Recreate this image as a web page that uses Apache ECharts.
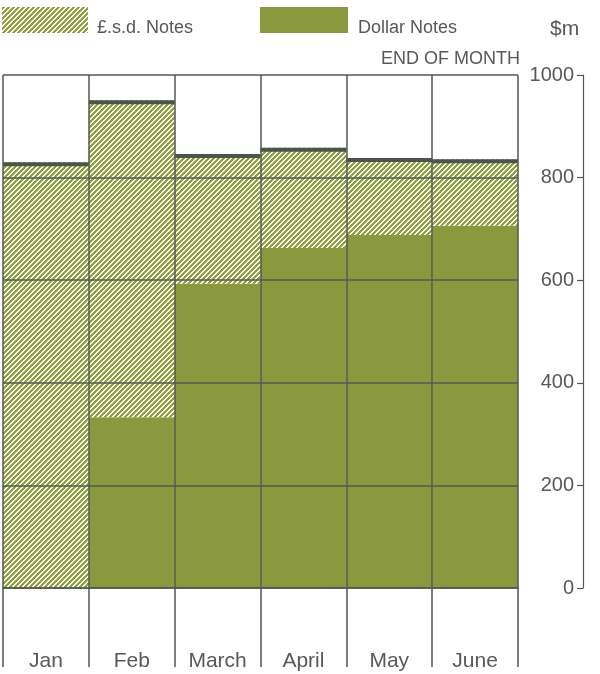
<!DOCTYPE html>
<html>
<head>
<meta charset="utf-8">
<script src="https://cdn.jsdelivr.net/npm/echarts@6/dist/echarts.min.js"></script>
<style>html,body{margin:0;padding:0;background:#fff}#c{width:600px;height:674px}</style>
</head>
<body>
<div id="c"></div>
<script>
const months = ['Jan', 'Feb', 'March', 'April', 'May', 'June'];
const dollarNotes = [0, 333, 593, 663, 688, 706];
const lsdNotes = [830, 618, 253, 195, 150, 130];
const yTicks = [0, 200, 400, 600, 800, 1000];

const totals = months.map((m, i) => dollarNotes[i] + lsdNotes[i]);

function hatch() {
  const p = 5, w = 3, n = 20;
  const cv = document.createElement('canvas');
  cv.width = n; cv.height = n;
  const ctx = cv.getContext('2d');
  ctx.fillStyle = '#ffffff';
  ctx.fillRect(0, 0, n, n);
  ctx.fillStyle = '#90a23f';
  for (let y = 0; y < n; y++) {
    for (let x = 0; x < n; x++) {
      if ((x + y) % p < w) ctx.fillRect(x, y, 1, 1);
    }
  }
  return cv;
}
const hatchColor = { image: hatch(), repeat: 'repeat' };
const dollarColor = '#8a993d';
const lineColor = '#525a4f';
const textColor = '#555a55';
const font = 'Liberation Sans, Arial, sans-serif';

function legendText(padLeft) {
  return {
    fontSize: 18, color: textColor, fontFamily: font, padding: [0, 0, 0, padLeft],
    rich: { a: { fontSize: 18, color: textColor, fontFamily: font, padding: [16, 0, 0, 0] } }
  };
}

const chart = echarts.init(document.getElementById('c'), null, { renderer: 'canvas' });
chart.setOption({
  animation: false,
  textStyle: { fontFamily: font },
  grid: { left: 3, right: 82, top: 75, bottom: 86 },
  legend: [
    { data: ['£.s.d. Notes'], left: 2, top: 7, padding: 0, itemWidth: 86, itemHeight: 26, icon: 'rect',
      formatter: '{a|{name}}', textStyle: legendText(4) },
    { data: ['Dollar Notes'], left: 260, top: 7, padding: 0, itemWidth: 88, itemHeight: 26, icon: 'rect',
      formatter: '{a|{name}}', textStyle: legendText(5) }
  ],
  graphic: [
    { type: 'text', left: 550, top: 19, style: { text: '$m', fontSize: 21, fill: textColor, fontFamily: font } },
    { type: 'text', right: 80, top: 50, style: { text: 'END OF MONTH', fontSize: 18, fill: textColor, fontFamily: font } }
  ],
  xAxis: {
    type: 'category', data: months, boundaryGap: true, z: 10,
    axisLine: { show: true, lineStyle: { color: lineColor, width: 1.5 } },
    axisTick: { show: true, alignWithLabel: false, length: 79, lineStyle: { color: lineColor, width: 1.5 } },
    axisLabel: { margin: 63, fontSize: 21, color: textColor, fontFamily: font },
    splitLine: { show: true, lineStyle: { color: lineColor, width: 1.5 } }
  },
  yAxis: {
    type: 'value', min: 0, max: 1000, interval: 200, position: 'right', offset: 65, z: 10,
    axisLine: { show: true, lineStyle: { color: lineColor, width: 1.2 } },
    axisTick: { show: true, inside: true, length: 6, lineStyle: { color: lineColor, width: 1.2 } },
    axisLabel: { inside: true, margin: 9, fontSize: 20, color: textColor, fontFamily: font,
      formatter: v => (yTicks.indexOf(v) >= 0 ? String(v) : '') },
    splitLine: { show: true, lineStyle: { color: lineColor, width: 1.5 } }
  },
  series: [
    { name: 'Dollar Notes', type: 'bar', stack: 'notes', data: dollarNotes, barCategoryGap: '0%',
      itemStyle: { color: dollarColor } },
    { name: '£.s.d. Notes', type: 'bar', stack: 'notes', data: lsdNotes, barCategoryGap: '0%',
      itemStyle: { color: hatchColor } },
    { name: 'top', type: 'custom', z: 5,
      data: totals.map((t, i) => [i, t]),
      renderItem: function (params, api) {
        const pt = api.coord([api.value(0), api.value(1)]);
        const size = api.size([1, 0]);
        return { type: 'rect', shape: { x: pt[0] - size[0] / 2, y: pt[1], width: size[0], height: 4 },
          style: { fill: '#4d544a' } };
      }
    }
  ]
});
</script>
</body>
</html>
